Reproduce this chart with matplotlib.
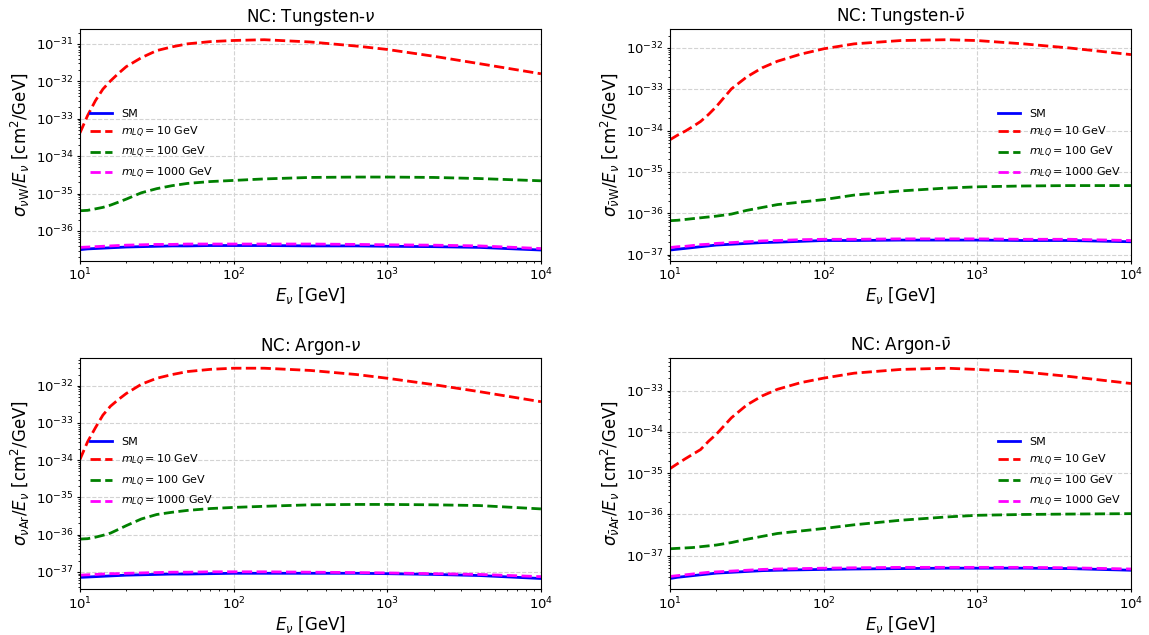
import numpy as np
import matplotlib
matplotlib.use("Agg")
import matplotlib.pyplot as plt

# neutrino energies [GeV]
energy = [10, 11.2, 12.6, 14.1, 15.8, 17.8, 20, 25.1, 31.6, 39.8, 50.1, 70.8,
          100, 158, 316, 631, 1000, 1995, 3981, 10000]

# log10 of sigma/E [cm^2/GeV]
# Tungsten, neutrino
w_nu_sm = [-36.50, -36.48, -36.47, -36.46, -36.45, -36.44, -36.43, -36.42, -36.41, -36.40,
           -36.40, -36.39, -36.39, -36.39, -36.40, -36.40, -36.41, -36.42, -36.44, -36.51]
w_nu_10 = [-33.38, -32.92, -32.52, -32.21, -31.99, -31.79, -31.61, -31.37, -31.18, -31.08,
           -31.00, -30.94, -30.91, -30.89, -30.95, -31.06, -31.15, -31.33, -31.53, -31.80]
w_nu_100 = [-35.46, -35.45, -35.41, -35.37, -35.31, -35.23, -35.15, -34.98, -34.87, -34.79,
            -34.73, -34.68, -34.65, -34.61, -34.57, -34.56, -34.56, -34.57, -34.60, -34.66]
w_nu_1000 = [-36.44, -36.43, -36.42, -36.41, -36.40, -36.39, -36.38, -36.37, -36.36, -36.36,
             -36.35, -36.35, -36.35, -36.35, -36.35, -36.36, -36.37, -36.38, -36.40, -36.47]

# Tungsten, antineutrino
w_nubar_sm = [-36.89, -36.87, -36.85, -36.83, -36.81, -36.79, -36.77, -36.75, -36.73, -36.71,
              -36.70, -36.68, -36.66, -36.66, -36.65, -36.65, -36.65, -36.66, -36.66, -36.69]
w_nubar_10 = [-34.22, -34.11, -34.01, -33.90, -33.78, -33.61, -33.42, -32.99, -32.70, -32.48,
              -32.32, -32.15, -32.02, -31.90, -31.82, -31.80, -31.82, -31.90, -32.00, -32.16]
w_nubar_100 = [-36.18, -36.17, -36.15, -36.13, -36.11, -36.09, -36.07, -36.02, -35.93, -35.86,
               -35.79, -35.73, -35.67, -35.56, -35.46, -35.39, -35.36, -35.34, -35.33, -35.33]
w_nubar_1000 = [-36.83, -36.81, -36.80, -36.78, -36.76, -36.75, -36.73, -36.71, -36.69, -36.67,
                -36.66, -36.64, -36.63, -36.63, -36.62, -36.62, -36.62, -36.63, -36.63, -36.66]

# Argon, neutrino
ar_nu_sm = [-37.15, -37.14, -37.13, -37.12, -37.11, -37.10, -37.09, -37.08, -37.07, -37.06,
            -37.06, -37.05, -37.04, -37.04, -37.04, -37.04, -37.05, -37.07, -37.10, -37.18]
ar_nu_10 = [-33.98, -33.51, -33.13, -32.79, -32.55, -32.37, -32.21, -31.96, -31.80, -31.70,
            -31.62, -31.56, -31.53, -31.53, -31.59, -31.70, -31.80, -31.97, -32.16, -32.43]
ar_nu_100 = [-36.12, -36.11, -36.07, -36.02, -35.96, -35.86, -35.76, -35.58, -35.46, -35.40,
             -35.35, -35.30, -35.27, -35.24, -35.20, -35.19, -35.19, -35.20, -35.22, -35.31]
ar_nu_1000 = [-37.09, -37.08, -37.07, -37.06, -37.05, -37.05, -37.04, -37.03, -37.02, -37.01,
              -37.01, -37.00, -37.00, -37.00, -37.01, -37.02, -37.03, -37.05, -37.07, -37.13]

# Argon, antineutrino
ar_nubar_sm = [-37.55, -37.52, -37.50, -37.48, -37.46, -37.44, -37.42, -37.40, -37.38, -37.36,
               -37.35, -37.34, -37.33, -37.32, -37.31, -37.30, -37.30, -37.30, -37.31, -37.35]
ar_nubar_10 = [-34.89, -34.77, -34.65, -34.54, -34.43, -34.23, -34.06, -33.66, -33.35, -33.13,
               -32.97, -32.81, -32.70, -32.58, -32.49, -32.46, -32.49, -32.55, -32.66, -32.83]
ar_nubar_100 = [-36.83, -36.82, -36.81, -36.80, -36.78, -36.76, -36.74, -36.68, -36.60, -36.53,
                -36.46, -36.40, -36.34, -36.25, -36.14, -36.06, -36.02, -36.00, -35.99, -35.98]
ar_nubar_1000 = [-37.50, -37.48, -37.46, -37.44, -37.42, -37.40, -37.39, -37.37, -37.35, -37.33,
                 -37.32, -37.31, -37.30, -37.29, -37.28, -37.28, -37.28, -37.28, -37.29, -37.32]

panels = [
    ("NC: Tungsten-$\\nu$", r"$\sigma_{\nu\mathrm{W}}/E_\nu$ [cm$^2$/GeV]",
     [w_nu_sm, w_nu_10, w_nu_100, w_nu_1000], "center left"),
    ("NC: Tungsten-$\\bar{\\nu}$", r"$\sigma_{\bar{\nu}\mathrm{W}}/E_\nu$ [cm$^2$/GeV]",
     [w_nubar_sm, w_nubar_10, w_nubar_100, w_nubar_1000], "center right"),
    ("NC: Argon-$\\nu$", r"$\sigma_{\nu\mathrm{Ar}}/E_\nu$ [cm$^2$/GeV]",
     [ar_nu_sm, ar_nu_10, ar_nu_100, ar_nu_1000], "center left"),
    ("NC: Argon-$\\bar{\\nu}$", r"$\sigma_{\bar{\nu}\mathrm{Ar}}/E_\nu$ [cm$^2$/GeV]",
     [ar_nubar_sm, ar_nubar_10, ar_nubar_100, ar_nubar_1000], "center right"),
]

labels = ["SM", r"$m_{LQ} = 10$ GeV", r"$m_{LQ} = 100$ GeV", r"$m_{LQ} = 1000$ GeV"]
colors = ["blue", "red", "green", "magenta"]
styles = ["-", "--", "--", "--"]

fig, axes = plt.subplots(2, 2, figsize=(11.49, 6.35), dpi=100)
fig.subplots_adjust(left=0.0696, right=0.9843, bottom=0.0724, top=0.954,
                    wspace=0.28, hspace=0.42)

for ax, (title, ylabel, curves, loc) in zip(axes.flat, panels):
    for vals, lab, c, ls in zip(curves, labels, colors, styles):
        ax.plot(energy, 10.0 ** np.array(vals), color=c, ls=ls, lw=2, label=lab)
    ax.set_xscale("log")
    ax.set_yscale("log")
    ax.set_xlim(10, 1e4)
    ax.set_title(title, fontsize=12, pad=5)
    ax.set_xlabel(r"$E_\nu$ [GeV]", fontsize=12, labelpad=1.5)
    ax.set_ylabel(ylabel, fontsize=12, labelpad=3)
    ax.tick_params(which="major", labelsize=9.5, length=2.5, pad=2)
    ax.tick_params(which="minor", length=1.5)
    ax.grid(True, ls="--", color="lightgray", lw=0.8)
    ax.legend(loc=loc, frameon=False, fontsize=8)

plt.savefig("out.png")
